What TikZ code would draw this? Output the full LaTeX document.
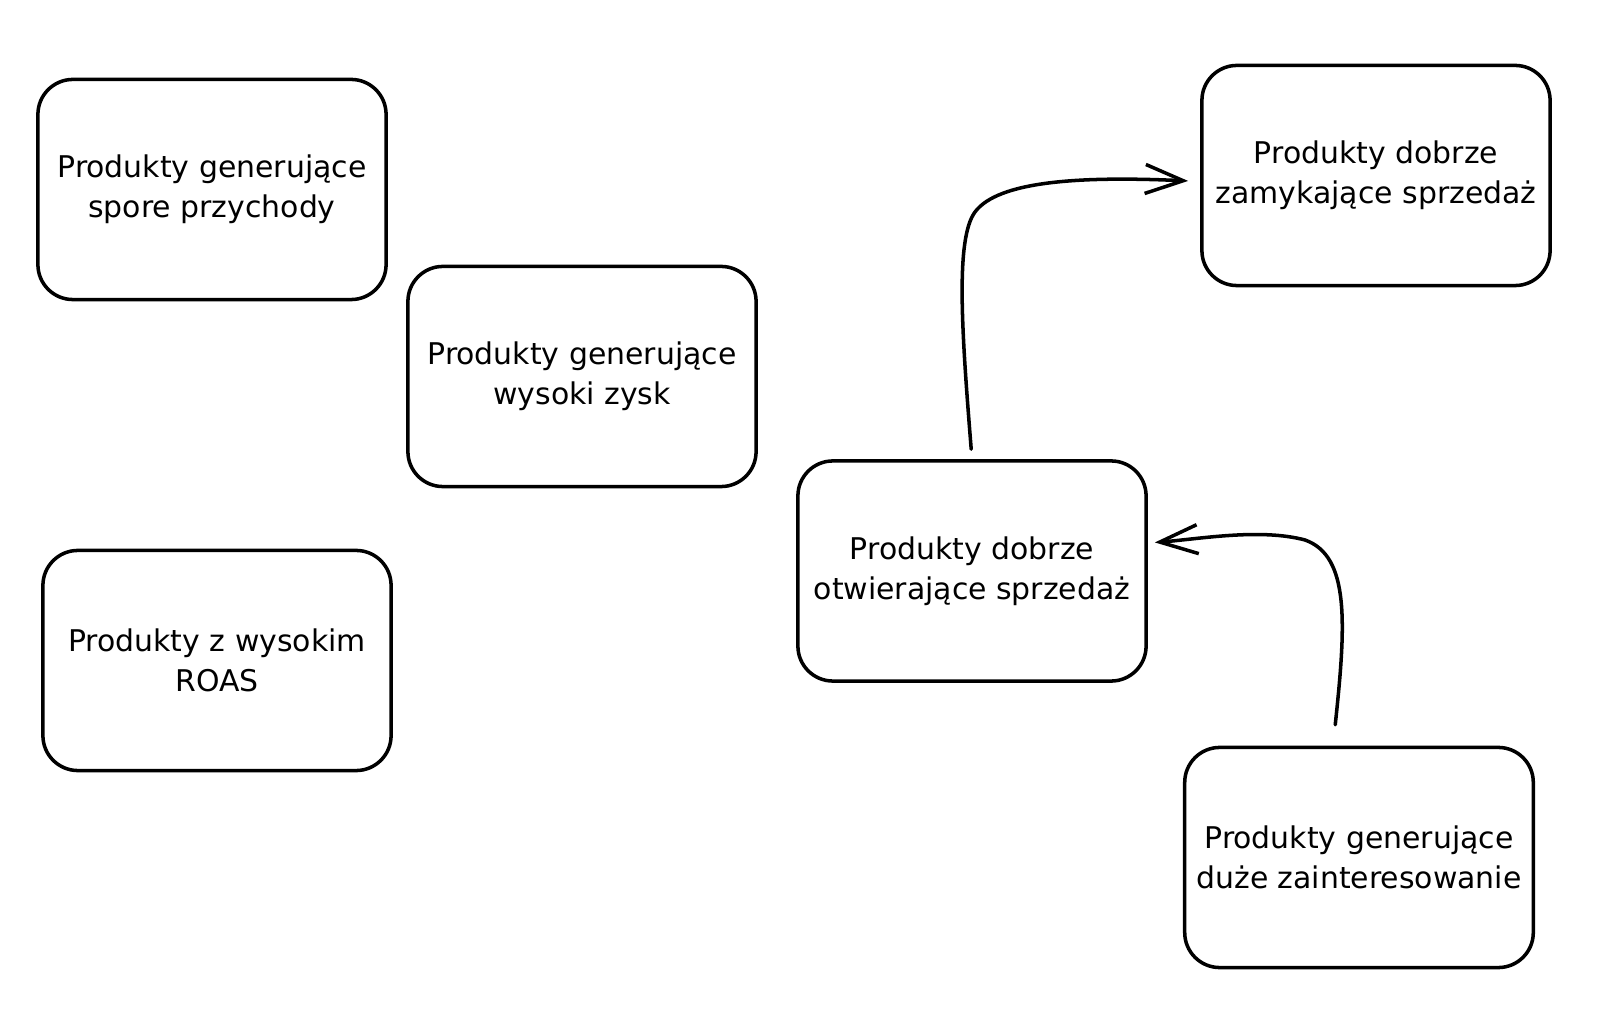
\documentclass[tikz,border=0pt]{standalone}
\usepackage{fontspec}
\setmainfont{DejaVu Sans}
\usetikzlibrary{arrows.meta}

\begin{document}
\begin{tikzpicture}
[x=0.01cm,y=0.01cm,line width=1pt,>={Straight Barb[length=3.8mm,width=2.9mm]},
box/.style = {draw, rounded corners=0.35cm, minimum width=3.48cm, minimum height=2.2cm, align=center, font=\fontsize{8.5}{11.4}\selectfont},
link/.style = {->, line cap=round},]
\useasboundingbox (0,0) rectangle (1600,1024);
\node (spore) at (212,834.5)[box] {Produkty generujące\\spore przychody};
\node (zysk) at (582,647.5)[box] {Produkty generujące\\wysoki zysk};
\node (roas) at (217,363.5)[box] {Produkty z wysokim\\ROAS};
\node (otw) at (972,453)[box] {Produkty dobrze\\otwierające sprzedaż};
\node (zam) at (1376,848.5)[box] {Produkty dobrze\\zamykające sprzedaż};
\node (zain) at (1359,166.5)[box] {Produkty generujące\\duże zainteresowanie};
\draw[link, shorten <=0.1cm, shorten >=0.12cm] (otw.north) .. controls (962,690) and (955,785) .. (975,812) .. controls (998,843) and (1080,848) .. ([yshift=-0.06cm]zam.west);
\draw[link, shorten <=0.21cm, shorten >=0.07cm] ([xshift=-0.26cm]zain.north) .. controls (1346,400) and (1350,468) .. (1305,484) .. controls (1260,496) and (1200,485) .. ([yshift=0.28cm]otw.east);
\end{tikzpicture}
\end{document}
